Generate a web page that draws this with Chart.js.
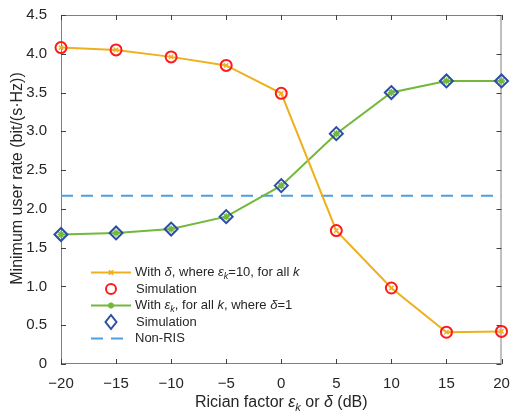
<!DOCTYPE html>
<html><head><meta charset="utf-8">
<script src="https://cdn.jsdelivr.net/npm/chart.js@4/dist/chart.umd.min.js"></script>
<style>html,body{margin:0;padding:0;background:#fff}#wrap{width:510px;height:416px}</style>
</head><body><div id="wrap"><canvas id="c" width="510" height="416"></canvas></div>
<script>
// ---- data ----
const ricianDb = [-20, -15, -10, -5, 0, 5, 10, 15, 20];
const rateWithDelta = [4.08, 4.05, 3.96, 3.85, 3.49, 1.72, 0.98, 0.41, 0.42];
const simWithDelta = [4.08, 4.05, 3.96, 3.85, 3.49, 1.72, 0.98, 0.41, 0.42];
const rateWithEps = [1.67, 1.69, 1.74, 1.90, 2.30, 2.97, 3.50, 3.65, 3.65];
const simWithEps = [1.67, 1.69, 1.74, 1.90, 2.30, 2.97, 3.50, 3.65, 3.65];
const nonRisRate = 2.17;
const xTicks = [-20, -15, -10, -5, 0, 5, 10, 15, 20];
const yTicks = [0, 0.5, 1.0, 1.5, 2.0, 2.5, 3.0, 3.5, 4.0, 4.5];

const FONT = '"Liberation Sans", Arial, Helvetica, sans-serif';
const C_ORANGE = '#EDB120', C_GREEN = '#72B83A', C_RED = '#FF1A1A', C_BLUE = '#2A4EA3', C_DASH = '#4A9FE2';
const TXT = '#262626';

const pts = ys => ricianDb.map((x, i) => ({x, y: ys[i]}));

function drawRich(ctx, segs, x, y, size, align) {
  let w = 0;
  const fontOf = s => (s.i ? 'italic ' : '') + (s.sub ? Math.round(size * 0.68) : size) + 'px ' + FONT;
  segs.forEach(s => { ctx.font = fontOf(s); s.w = ctx.measureText(s.t).width; w += s.w; });
  let cx = align === 'center' ? x - w / 2 : x;
  ctx.textAlign = 'left'; ctx.textBaseline = 'middle';
  segs.forEach(s => {
    ctx.font = fontOf(s);
    ctx.fillText(s.t, cx, y + (s.sub ? size * 0.3 : 0));
    cx += s.w;
  });
}

const framePlugin = {
  id: 'frame',
  beforeDatasetsDraw(chart) {
    const {ctx, chartArea: a, scales: {x, y}} = chart;
    ctx.save();
    ctx.strokeStyle = '#808080'; ctx.lineWidth = 1;
    ctx.strokeRect(a.left + 0.5, a.top + 0.5, a.right - a.left - 1, a.bottom - a.top - 1);
    ctx.strokeStyle = '#404040';
    ctx.beginPath();
    xTicks.forEach(v => {
      const px = Math.round(x.getPixelForValue(v)) + 0.5;
      ctx.moveTo(px, a.bottom); ctx.lineTo(px, a.bottom - 5);
      ctx.moveTo(px, a.top); ctx.lineTo(px, a.top + 5);
    });
    yTicks.forEach(v => {
      const py = Math.round(y.getPixelForValue(v)) + 0.5;
      ctx.moveTo(a.left, py); ctx.lineTo(a.left + 5, py);
      ctx.moveTo(a.right, py); ctx.lineTo(a.right - 5, py);
    });
    ctx.stroke();
    ctx.restore();
  },
  afterDraw(chart) {
    const {ctx, chartArea: a} = chart;
    ctx.save();
    ctx.fillStyle = TXT;
    // x axis title
    drawRich(ctx, [{t: 'Rician factor '}, {t: 'ε', i: true}, {t: 'k', i: true, sub: true}, {t: ' or '}, {t: 'δ', i: true}, {t: ' (dB)'}],
      (a.left + a.right) / 2, 403, 16, 'center');
    // y axis title
    ctx.save();
    ctx.translate(18, 178.5);
    ctx.rotate(-Math.PI / 2);
    ctx.font = '16px ' + FONT; ctx.textAlign = 'center'; ctx.textBaseline = 'middle';
    ctx.fillText('Minimum user rate (bit/(s·Hz))', 0, 0);
    ctx.restore();

    // legend
    const rows = [272.5, 289, 305.5, 322, 338.5];
    const sx0 = 91, sx1 = 131, mx = 111, tx = 135, fs = 13;
    ctx.lineWidth = 2;
    ctx.strokeStyle = C_ORANGE;
    ctx.beginPath(); ctx.moveTo(sx0, rows[0]); ctx.lineTo(sx1, rows[0]); ctx.stroke();
    Chart.helpers.drawPoint(ctx, {pointStyle: 'crossRot', radius: 3, borderWidth: 1.5}, mx, rows[0]);
    ctx.strokeStyle = C_RED; ctx.lineWidth = 2;
    ctx.beginPath(); ctx.arc(mx, rows[1], 5, 0, Math.PI * 2); ctx.stroke();
    ctx.strokeStyle = C_GREEN; ctx.lineWidth = 2;
    ctx.beginPath(); ctx.moveTo(sx0, rows[2]); ctx.lineTo(sx1, rows[2]); ctx.stroke();
    ctx.fillStyle = C_GREEN;
    Chart.helpers.drawPoint(ctx, {pointStyle: 'star', radius: 3, borderWidth: 1.5}, mx, rows[2]);
    ctx.strokeStyle = C_BLUE; ctx.lineWidth = 2;
    ctx.beginPath();
    ctx.moveTo(mx, rows[3] - 7); ctx.lineTo(mx + 5.5, rows[3]); ctx.lineTo(mx, rows[3] + 7); ctx.lineTo(mx - 5.5, rows[3]); ctx.closePath();
    ctx.stroke();
    ctx.strokeStyle = C_DASH; ctx.lineWidth = 2; ctx.setLineDash([12, 8]);
    ctx.beginPath(); ctx.moveTo(sx0, rows[4]); ctx.lineTo(sx1, rows[4]); ctx.stroke();
    ctx.setLineDash([]);

    ctx.fillStyle = TXT;
    drawRich(ctx, [{t: 'With '}, {t: 'δ', i: true}, {t: ', where '}, {t: 'ε', i: true}, {t: 'k', i: true, sub: true}, {t: '=10, for all '}, {t: 'k', i: true}], tx, rows[0], fs, 'left');
    drawRich(ctx, [{t: 'Simulation'}], tx + 1, rows[1], fs, 'left');
    drawRich(ctx, [{t: 'With '}, {t: 'ε', i: true}, {t: 'k', i: true, sub: true}, {t: ', for all '}, {t: 'k', i: true}, {t: ', where '}, {t: 'δ', i: true}, {t: '=1'}], tx, rows[2], fs, 'left');
    drawRich(ctx, [{t: 'Simulation'}], tx + 1, rows[3], fs, 'left');
    drawRich(ctx, [{t: 'Non-RIS'}], tx, rows[4], fs, 'left');
    ctx.restore();
  }
};

new Chart(document.getElementById('c'), {
  type: 'line',
  data: {
    datasets: [
      {label: 'Simulation (δ)', data: pts(simWithDelta), showLine: false, pointStyle: 'circle', pointRadius: 5.5,
        borderColor: C_RED, pointBorderWidth: 2, backgroundColor: 'rgba(0,0,0,0)', order: 0, clip: false},
      {label: 'Simulation (ε)', data: pts(simWithEps), showLine: false, pointStyle: 'rectRot', pointRadius: 6.5,
        borderColor: C_BLUE, pointBorderWidth: 2, backgroundColor: 'rgba(0,0,0,0)', order: 0, clip: false},
      {label: 'With δ', data: pts(rateWithDelta), borderColor: C_ORANGE, backgroundColor: C_ORANGE, borderWidth: 2,
        pointStyle: 'crossRot', pointRadius: 3, pointBorderWidth: 1.5, tension: 0, order: 1, clip: false},
      {label: 'With ε', data: pts(rateWithEps), borderColor: C_GREEN, backgroundColor: C_GREEN, borderWidth: 2,
        pointStyle: 'star', pointRadius: 3.5, pointBorderWidth: 1.5, tension: 0, order: 1, clip: false},
      {label: 'Non-RIS', data: [{x: xTicks[0], y: nonRisRate}, {x: xTicks[xTicks.length - 1], y: nonRisRate}],
        borderColor: C_DASH, borderWidth: 2, borderDash: [12, 8], pointRadius: 0, order: 2}
    ]
  },
  options: {
    responsive: false, animation: false, devicePixelRatio: 1,
    layout: {padding: {left: 0, right: 0, top: 15, bottom: 0}},
    plugins: {legend: {display: false}, tooltip: {enabled: false}},
    scales: {
      x: {
        type: 'linear', min: -20, max: 20,
        afterBuildTicks: s => { s.ticks = xTicks.map(v => ({value: v})); },
        afterFit: s => { s.height = 52; s.paddingRight = 8; s.paddingLeft = 0; },
        grid: {display: false}, border: {display: false},
        ticks: {padding: 3, color: TXT, font: {family: FONT, size: 15},
          callback: v => String(v).replace('-', '\u2212')}
      },
      y: {
        type: 'linear', min: 0, max: 4.5,
        afterBuildTicks: s => { s.ticks = yTicks.map(v => ({value: v})); },
        afterFit: s => { s.width = 61; },
        grid: {display: false}, border: {display: false},
        ticks: {padding: 6, color: TXT, font: {family: FONT, size: 15},
          callback: v => v === 0 ? '0' : v.toFixed(1)}
      }
    }
  },
  plugins: [framePlugin]
});
</script></body></html>
